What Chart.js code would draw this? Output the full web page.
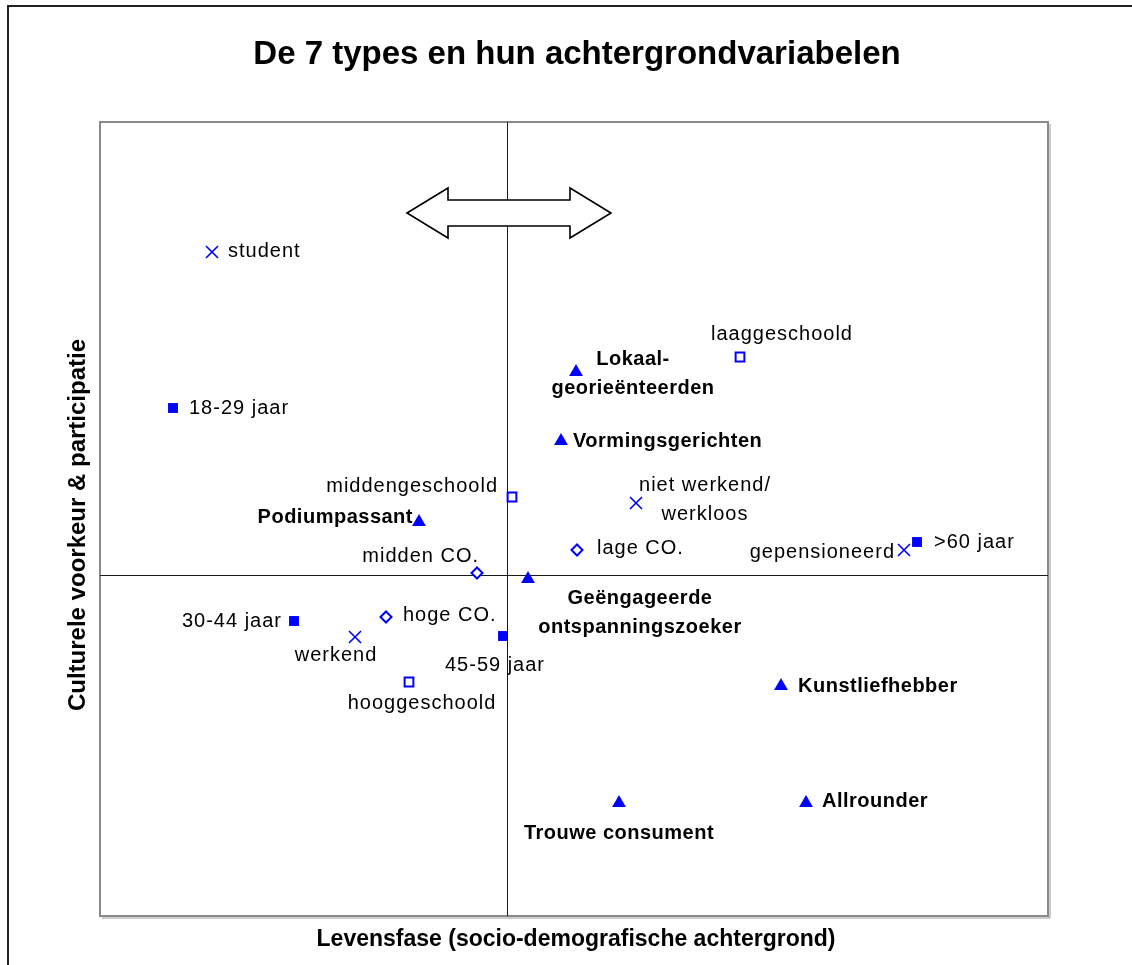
<!DOCTYPE html>
<html>
<head>
<meta charset="utf-8">
<title>De 7 types en hun achtergrondvariabelen</title>
<script src="https://cdn.jsdelivr.net/npm/chart.js@4.4.0/dist/chart.umd.min.js"></script>
<style>
  html, body { margin: 0; padding: 0; background: #fff; }
  canvas { display: block; }
</style>
</head>
<body>
<canvas id="chart" width="1132" height="965"></canvas>
<script>

// ---- data (axis cross = 0,0) ----

const typeNames = [['Lokaal-', 'georieënteerden'], ['Vormingsgerichten'], ['Podiumpassant'],
    ['Geëngageerde', 'ontspanningszoeker'], ['Kunstliefhebber'], ['Allrounder'], ['Trouwe consument']];
const typeX = [0.69, 0.54, -0.88, 0.21, 2.74, 2.99, 1.12];
const typeY = [2.03, 1.34, 0.53, -0.04, -1.11, -2.28, -2.28];

const ageNames = [['18-29 jaar'], ['30-44 jaar'], ['45-59 jaar'], ['>60 jaar']];
const ageX = [-3.34, -2.13, -0.04, 4.10];
const ageY = [1.67, -0.46, -0.61, 0.33];

const eduNames = [['laaggeschoold'], ['middengeschoold'], ['hooggeschoold']];
const eduX = [2.33, 0.05, -0.98];
const eduY = [2.18, 0.78, -1.07];

const coNames = [['midden CO.'], ['lage CO.'], ['hoge CO.']];
const coX = [-0.30, 0.70, -1.21];
const coY = [0.02, 0.25, -0.42];

const workNames = [['student'], ['niet werkend/', 'werkloos'], ['gepensioneerd'], ['werkend']];
const workX = [-2.95, 1.29, 3.97, -1.52];
const workY = [3.23, 0.72, 0.25, -0.62];

const xRange = [-4.07, 5.41];
const yRange = [-3.41, 4.53];

const chartTitle = 'De 7 types en hun achtergrondvariabelen';
const xTitle = 'Levensfase (socio-demografische achtergrond)';
const yTitle = 'Culturele voorkeur & participatie';

// ---- layout / styles ----

// label placement: [align, dx, dy] in pixels from the marker
const typePlace = [['center', 57, 2], ['left', 12, 0], ['right', -6, -5], ['center', 112, 34],
    ['left', 17, 0], ['left', 16, -2], ['center', 0, 30]];
const agePlace = [['left', 16, 0], ['right', -12, 0], ['center', -8, 29], ['left', 17, 0]];
const eduPlace = [['center', 42, -23], ['right', -14, -11], ['center', 13, 21]];
const coPlace = [['right', 2, -17], ['left', 20, -2], ['left', 17, -2]];
const workPlace = [['left', 16, -1], ['center', 69, -3], ['right', -9, 2], ['center', -19, 18]];

const arrowAt = { x: 0.02, y: 3.62 };

const BLUE = '#0000ff';
const FONT = "'Liberation Sans', Arial, sans-serif";

function toPoints(xs, ys) {
    return xs.map((x, i) => ({ x: x, y: ys[i] }));
}

const groups = [
    { names: typeNames, place: typePlace, bold: true },
    { names: ageNames, place: agePlace, bold: false },
    { names: eduNames, place: eduPlace, bold: false },
    { names: coNames, place: coPlace, bold: false },
    { names: workNames, place: workPlace, bold: false }
];

const framePlugin = {
    id: 'frame',
    beforeDatasetsDraw(chart) {
        const ctx = chart.ctx;
        const a = chart.chartArea;
        const xs = chart.scales.x;
        const ys = chart.scales.y;

        ctx.save();

        // outer frame
        ctx.strokeStyle = '#222';
        ctx.lineWidth = 2;
        ctx.strokeRect(8, 6, 1200, 1100);

        // plot border
        ctx.strokeStyle = '#8a8a8a';
        ctx.lineWidth = 2;
        ctx.strokeRect(a.left, a.top, a.right - a.left, a.bottom - a.top);
        ctx.strokeStyle = '#9a9a9a';
        ctx.lineWidth = 1;
        ctx.beginPath();
        ctx.moveTo(a.right + 2, a.top + 2);
        ctx.lineTo(a.right + 2, a.bottom + 2);
        ctx.lineTo(a.left + 2, a.bottom + 2);
        ctx.stroke();

        // axis cross
        const x0 = Math.round(xs.getPixelForValue(0)) + 0.5;
        const y0 = Math.round(ys.getPixelForValue(0)) + 0.5;
        ctx.strokeStyle = '#1a1a1a';
        ctx.lineWidth = 1;
        ctx.beginPath();
        ctx.moveTo(x0, a.top);
        ctx.lineTo(x0, a.bottom);
        ctx.moveTo(a.left, y0);
        ctx.lineTo(a.right, y0);
        ctx.stroke();

        // double arrow
        const cx = xs.getPixelForValue(arrowAt.x);
        const cy = ys.getPixelForValue(arrowAt.y);
        ctx.beginPath();
        ctx.moveTo(cx - 102, cy);
        ctx.lineTo(cx - 61, cy - 25);
        ctx.lineTo(cx - 61, cy - 13);
        ctx.lineTo(cx + 61, cy - 13);
        ctx.lineTo(cx + 61, cy - 25);
        ctx.lineTo(cx + 102, cy);
        ctx.lineTo(cx + 61, cy + 25);
        ctx.lineTo(cx + 61, cy + 13);
        ctx.lineTo(cx - 61, cy + 13);
        ctx.lineTo(cx - 61, cy + 25);
        ctx.closePath();
        ctx.fillStyle = '#fff';
        ctx.fill();
        ctx.strokeStyle = '#000';
        ctx.lineWidth = 1.6;
        ctx.stroke();

        // titles
        ctx.fillStyle = '#000';
        ctx.textBaseline = 'middle';
        ctx.textAlign = 'center';
        ctx.font = 'bold 33px ' + FONT;
        ctx.fillText(chartTitle, (a.left + a.right) / 2 + 3, 55);

        ctx.font = 'bold 23px ' + FONT;
        ctx.fillText(xTitle, (a.left + a.right) / 2 + 2, 940);

        ctx.font = 'bold 24px ' + FONT;
        ctx.translate(78, (a.top + a.bottom) / 2 + 6);
        ctx.rotate(-Math.PI / 2);
        ctx.fillText(yTitle, 0, 0);

        ctx.restore();
    },
    afterDatasetsDraw(chart) {
        const ctx = chart.ctx;
        ctx.save();
        ctx.fillStyle = '#000';
        ctx.textBaseline = 'middle';

        groups.forEach((g, i) => {
            const meta = chart.getDatasetMeta(i);
            meta.data.forEach((pt, j) => {
                const lines = g.names[j];
                const p = g.place[j];
                ctx.font = (g.bold ? 'bold 20px ' : '20px ') + FONT;
                ctx.letterSpacing = g.bold ? '0.5px' : '1px';
                ctx.textAlign = p[0];
                const lh = 29;
                const startY = pt.y + p[2] - (lines.length - 1) * lh / 2;
                lines.forEach((line, k) => {
                    ctx.fillText(line, pt.x + p[1], startY + k * lh);
                });
            });
        });

        ctx.restore();
    }
};

const ctx = document.getElementById('chart').getContext('2d');

new Chart(ctx, {

    type: 'scatter',

    data: {
        datasets: [{
            label: 'types',
            data: toPoints(typeX, typeY),
            pointStyle: 'triangle',
            radius: 8,
            backgroundColor: BLUE,
            borderColor: BLUE,
            borderWidth: 0
        }, {
            label: 'leeftijd',
            data: toPoints(ageX, ageY),
            pointStyle: 'rect',
            radius: 7,
            backgroundColor: BLUE,
            borderColor: BLUE,
            borderWidth: 0
        }, {
            label: 'opleiding',
            data: toPoints(eduX, eduY),
            pointStyle: 'rect',
            radius: 6.2,
            backgroundColor: '#fff',
            borderColor: BLUE,
            borderWidth: 2
        }, {
            label: 'CO',
            data: toPoints(coX, coY),
            pointStyle: 'rectRot',
            radius: 5.5,
            backgroundColor: '#fff',
            borderColor: BLUE,
            borderWidth: 2
        }, {
            label: 'werk',
            data: toPoints(workX, workY),
            pointStyle: 'crossRot',
            radius: 8.5,
            backgroundColor: BLUE,
            borderColor: BLUE,
            borderWidth: 1.6
        }]
    },

    options: {
        responsive: false,
        animation: false,
        devicePixelRatio: 1,
        layout: {
            padding: { left: 100, top: 122, right: 84, bottom: 49 }
        },
        plugins: {
            legend: { display: false },
            tooltip: { enabled: false }
        },
        scales: {
            x: { type: 'linear', display: false, min: xRange[0], max: xRange[1] },
            y: { type: 'linear', display: false, min: yRange[0], max: yRange[1] }
        }
    },

    plugins: [framePlugin]
});
</script>
</body>
</html>
